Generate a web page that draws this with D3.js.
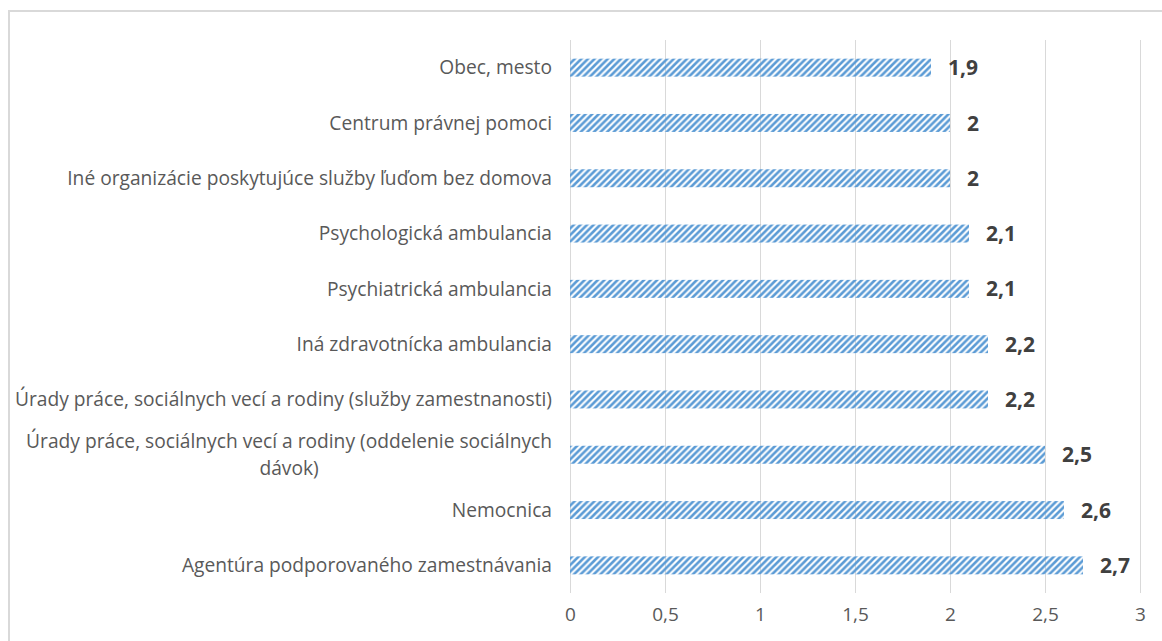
<!DOCTYPE html>
<meta charset="utf-8">
<head>
  <title>bar chart</title>
</head>
<style>
  body { margin: 0; background: #fff; }
  svg { display: block; }
  text { font-family: "Open Sans", "Noto Sans", sans-serif; }
</style>
<body>
  <svg width="1162" height="641"></svg>
  <script src="https://cdn.jsdelivr.net/npm/d3@7"></script>
  <script>

// data, top to bottom
var categories = [
  "Obec, mesto",
  "Centrum právnej pomoci",
  "Iné organizácie poskytujúce služby ľuďom bez domova",
  "Psychologická ambulancia",
  "Psychiatrická ambulancia",
  "Iná zdravotnícka ambulancia",
  "Úrady práce, sociálnych vecí a rodiny (služby zamestnanosti)",
  "Úrady práce, sociálnych vecí a rodiny (oddelenie sociálnych dávok)",
  "Nemocnica",
  "Agentúra podporovaného zamestnávania"
];
var values = [1.9, 2, 2, 2.1, 2.1, 2.2, 2.2, 2.5, 2.6, 2.7];
var xTicks = [0, 0.5, 1, 1.5, 2, 2.5, 3];

var svg = d3.select("svg");
var labelRight = 552, labelMaxW = 548;

// outer frame
svg.append("rect")
  .attr("x", 9).attr("y", 11)
  .attr("width", 1200).attr("height", 700)
  .attr("fill", "#fff")
  .attr("stroke", "#d9d9d9")
  .attr("stroke-width", 2);

// hatch pattern (wide upward diagonal)
var pat = svg.append("defs").append("pattern")
  .attr("id", "hatch")
  .attr("patternUnits", "userSpaceOnUse")
  .attr("width", 6.6).attr("height", 6.6);
pat.append("path")
  .attr("d", "M-1.65,1.65 l3.3,-3.3 M0,6.6 l6.6,-6.6 M4.95,8.25 l3.3,-3.3")
  .attr("stroke", "#5b9bd5")
  .attr("stroke-width", 2.6);

var x = d3.scaleLinear().domain([0, 3]).range([570, 1140]);
var y = d3.scaleBand().domain(categories).range([40, 593])
  .paddingInner(0.675).paddingOuter(0.3375);

var fmt = function(v){ return String(v).replace(".", ","); };

// vertical gridlines
svg.append("g").selectAll("line")
  .data(xTicks)
  .enter().append("line")
  .attr("x1", function(d){ return Math.round(x(d)) + 0.5; })
  .attr("x2", function(d){ return Math.round(x(d)) + 0.5; })
  .attr("y1", 40).attr("y2", 593)
  .attr("stroke", "#d9d9d9")
  .attr("stroke-width", 1);

// x axis labels
var xAxis = svg.append("g")
  .attr("transform", "translate(0,606)")
  .call(d3.axisBottom(x).tickValues(xTicks).tickFormat(fmt).tickSize(0).tickPadding(0));
xAxis.select(".domain").remove();
xAxis.selectAll("text")
  .attr("dy", "0.8em")
  .style("font-family", "'Open Sans', 'Noto Sans', sans-serif")
  .style("font-size", "19px")
  .attr("fill", "#595959");

// bars
svg.append("g").selectAll("rect")
  .data(values)
  .enter().append("rect")
  .attr("x", x(0))
  .attr("y", function(d, i){ return y(categories[i]); })
  .attr("width", function(d){ return x(d) - x(0); })
  .attr("height", y.bandwidth())
  .attr("fill", "url(#hatch)");

// value labels
svg.append("g").selectAll("text")
  .data(values)
  .enter().append("text")
  .attr("x", function(d){ return x(d) + 17; })
  .attr("y", function(d, i){ return y(categories[i]) + y.bandwidth() / 2; })
  .attr("dy", "0.36em")
  .attr("font-size", "21px")
  .attr("font-weight", "bold")
  .attr("fill", "#404040")
  .text(fmt);

// category labels, wrapped when too long
var cats = svg.append("g");
categories.forEach(function(c){
  var cy = y(c) + y.bandwidth() / 2;
  var t = cats.append("text")
    .attr("font-size", "19.2px")
    .attr("fill", "#595959")
    .attr("x", labelRight).attr("y", cy)
    .attr("dy", "0.35em")
    .attr("text-anchor", "end")
    .text(c);
  if (t.node().getComputedTextLength() <= labelMaxW) return;

  var words = c.split(" "), lines = [], line = [];
  t.text(null);
  var probe = t.append("tspan");
  words.forEach(function(w){
    line.push(w);
    probe.text(line.join(" "));
    if (probe.node().getComputedTextLength() > labelMaxW && line.length > 1) {
      line.pop();
      lines.push(line.join(" "));
      line = [w];
    }
  });
  lines.push(line.join(" "));
  probe.remove();

  // wrapped labels are centred like in the original
  var w0 = 0;
  lines.forEach(function(l){
    var s = t.append("tspan").text(l);
    w0 = Math.max(w0, s.node().getComputedTextLength());
    s.remove();
  });
  var mid = labelRight - w0 / 2, lh = 26.5;
  t.attr("text-anchor", "middle");
  lines.forEach(function(l, i){
    t.append("tspan")
      .attr("x", mid)
      .attr("y", cy + (i - (lines.length - 1) / 2) * lh)
      .attr("dy", "0.35em")
      .text(l);
  });
});

  </script>
</body>
</html>
